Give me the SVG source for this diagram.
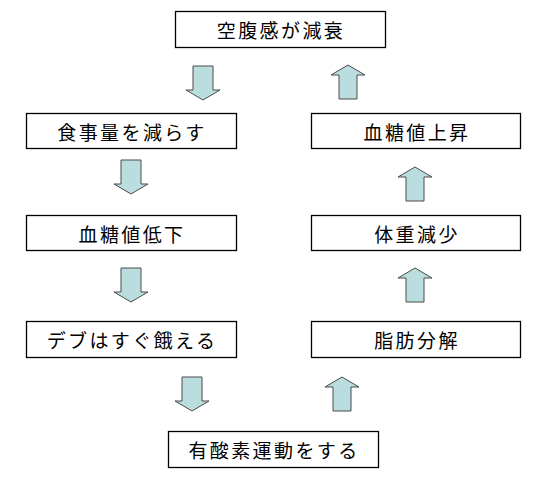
<svg xmlns="http://www.w3.org/2000/svg" xmlns:xlink="http://www.w3.org/1999/xlink" width="543" height="479" viewBox="0 0 543 479">
<style>
.box{fill:#fff;stroke:#000;stroke-width:1.3}
.lbl{font-family:"Noto Sans CJK JP","Noto Sans CJK SC",sans-serif;font-size:19px;letter-spacing:2.4px;fill:#000;text-anchor:middle;dominant-baseline:central}
.arr{fill:#BADEE0;stroke:#4a4a4a;stroke-width:1}
</style>
<defs>
<path id="down" d="M-10 0 H10 V24 H17 L0 34 L-17 24 H-10 Z"/>
<path id="up" d="M-9 34 H9 V10 H17 L0 0 L-17 10 H-9 Z"/>
</defs>
<rect width="543" height="479" fill="#fff"/>
<g id="connectors">
<use xlink:href="#down" class="arr" x="203" y="66"/>
<use xlink:href="#down" class="arr" x="131" y="160"/>
<use xlink:href="#down" class="arr" x="131" y="268"/>
<use xlink:href="#down" class="arr" x="192" y="377"/>
<use xlink:href="#up" class="arr" x="342" y="377"/>
<use xlink:href="#up" class="arr" x="415" y="268"/>
<use xlink:href="#up" class="arr" x="415" y="167"/>
<use xlink:href="#up" class="arr" x="348" y="65"/>
</g>
<g id="n1"><rect class="box" x="175.5" y="11.5" width="210" height="36"/><text class="lbl" x="281" y="29.5">空腹感が減衰</text></g>
<g id="n2"><rect class="box" x="26.5" y="113.5" width="210" height="35"/><text class="lbl" x="132" y="131">食事量を減らす</text></g>
<g id="n3"><rect class="box" x="26.5" y="215.5" width="210" height="35"/><text class="lbl" x="132" y="233">血糖値低下</text></g>
<g id="n4"><rect class="box" x="26.5" y="321.5" width="210" height="36"/><text class="lbl" x="132" y="339.5">デブはすぐ餓える</text></g>
<g id="n5"><rect class="box" x="168.5" y="431.5" width="210" height="36"/><text class="lbl" x="274" y="449.5">有酸素運動をする</text></g>
<g id="n6"><rect class="box" x="311.5" y="321.5" width="209" height="36"/><text class="lbl" x="417" y="339.5">脂肪分解</text></g>
<g id="n7"><rect class="box" x="311.5" y="215.5" width="209" height="35"/><text class="lbl" x="417" y="233">体重減少</text></g>
<g id="n8"><rect class="box" x="311.5" y="113.5" width="209" height="35"/><text class="lbl" x="417" y="131">血糖値上昇</text></g>
</svg>
